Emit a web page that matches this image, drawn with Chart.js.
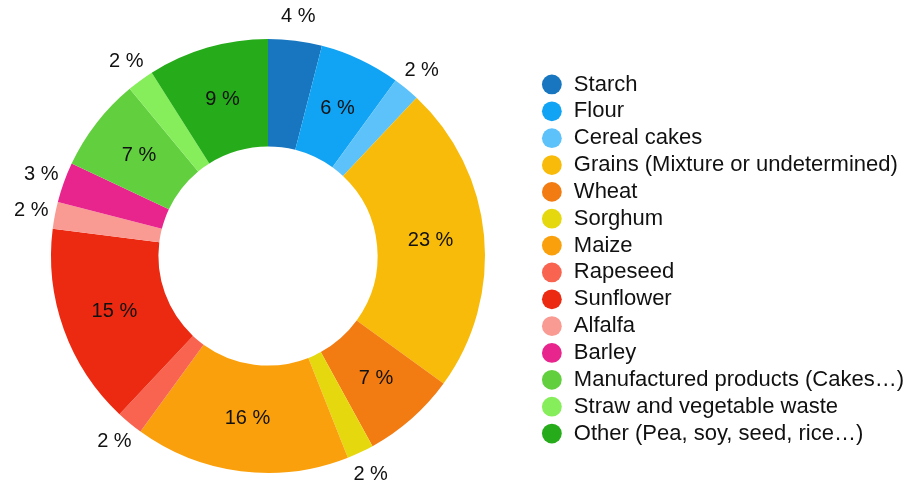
<!DOCTYPE html>
<html>
<head>
<meta charset="utf-8">
<script src="https://cdn.jsdelivr.net/npm/chart.js@4/dist/chart.umd.min.js"></script>
<style>
  html, body { margin: 0; padding: 0; background: #ffffff; }
  #wrap { width: 916px; height: 481px; position: relative; }
</style>
</head>
<body>
<div id="wrap"><canvas id="c" width="916" height="481"></canvas></div>
<script>
const categories = [
  "Starch", "Flour", "Cereal cakes", "Grains (Mixture or undetermined)", "Wheat",
  "Sorghum", "Maize", "Rapeseed", "Sunflower", "Alfalfa", "Barley",
  "Manufactured products (Cakes…)", "Straw and vegetable waste", "Other (Pea, soy, seed, rice…)"
];
const shares = [4, 6, 2, 23, 7, 2, 16, 2, 15, 2, 3, 7, 2, 9];
const colors = [
  "#1776BF", "#12A4F4", "#5EC2FA", "#F8BB0A", "#F27B12",
  "#E6D80F", "#FAA00C", "#F86450", "#EC2A12", "#F99B92", "#E8258C",
  "#62CF3F", "#86EE5A", "#26AC1A"
];
const FONT = "'Liberation Sans', Arial, Helvetica, sans-serif";

const sliceLabels = {
  id: 'sliceLabels',
  afterDatasetsDraw(chart) {
    const ctx = chart.ctx;
    const meta = chart.getDatasetMeta(0);
    const data = chart.data.datasets[0].data;
    ctx.save();
    ctx.font = "20px " + FONT;
    ctx.fillStyle = "#111111";
    ctx.textAlign = "center";
    ctx.textBaseline = "middle";
    meta.data.forEach((arc, i) => {
      const p = arc.getProps(['x', 'y', 'startAngle', 'endAngle', 'innerRadius', 'outerRadius'], true);
      const mid = (p.startAngle + p.endAngle) / 2;
      const v = data[i];
      const r = v >= 5 ? (p.innerRadius + p.outerRadius) / 2 : p.outerRadius + 24;
      ctx.fillText(v + " %", p.x + Math.cos(mid) * r, p.y + Math.sin(mid) * r);
    });
    ctx.restore();
  }
};

new Chart(document.getElementById('c'), {
  type: 'doughnut',
  data: {
    labels: categories,
    datasets: [{
      data: shares,
      backgroundColor: colors,
      borderWidth: 0
    }]
  },
  options: {
    responsive: false,
    animation: false,
    cutout: '50.5%',
    layout: { padding: { left: 0, right: 2, top: 39, bottom: 8 } },
    plugins: {
      tooltip: { enabled: false },
      legend: {
        position: 'right',
        align: 'center',
        title: { display: true, text: ' ', font: { size: 5 }, padding: 0 },
        labels: {
          usePointStyle: true,
          pointStyle: 'circle',
          boxWidth: 22,
          boxHeight: 14,
          padding: 4.85,
          color: '#111111',
          font: { family: FONT, size: 22 }
        }
      }
    }
  },
  plugins: [sliceLabels]
});
</script>
</body>
</html>
